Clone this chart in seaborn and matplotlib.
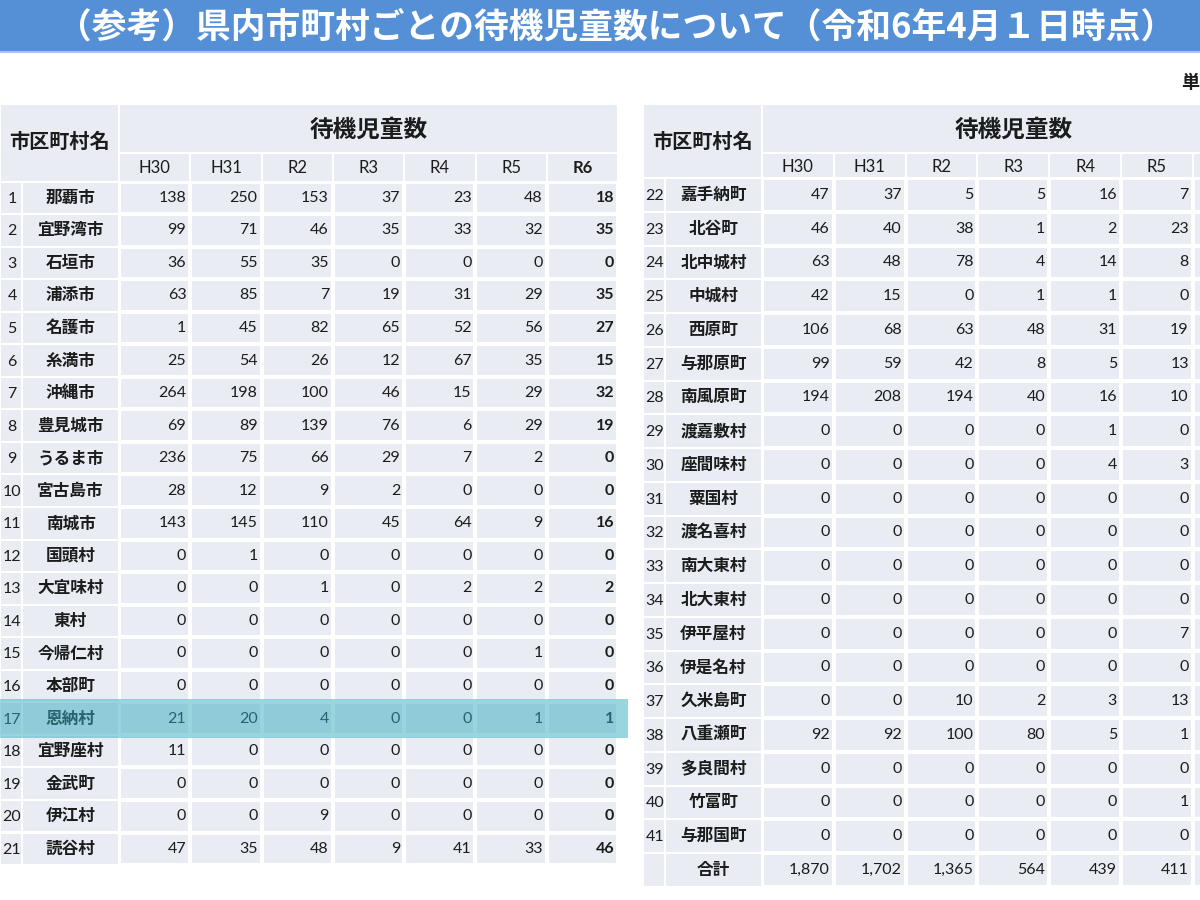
#%% Librerie
import numpy as np
import pandas as pd
import matplotlib
matplotlib.use("Agg")
import matplotlib.pyplot as plt
from matplotlib.colors import ListedColormap
from matplotlib.patches import Rectangle
import seaborn as sns

#%% Dati
title = "（参考）県内市町村ごとの待機児童数について（令和6年4月１日時点）"
unit_label = "単"  # nell'originale si vede solo il primo carattere, il resto è tagliato
name_header = "市区町村名"
group_header = "待機児童数"
total_label = "合計"
years = ["H30", "H31", "R2", "R3", "R4", "R5", "R6"]

names_left = ["那覇市", "宜野湾市", "石垣市", "浦添市", "名護市", "糸満市", "沖縄市",
              "豊見城市", "うるま市", "宮古島市", "南城市", "国頭村", "大宜味村", "東村",
              "今帰仁村", "本部町", "恩納村", "宜野座村", "金武町", "伊江村", "読谷村"]
values_left = [[138, 250, 153, 37, 23, 48, 18],
               [99, 71, 46, 35, 33, 32, 35],
               [36, 55, 35, 0, 0, 0, 0],
               [63, 85, 7, 19, 31, 29, 35],
               [1, 45, 82, 65, 52, 56, 27],
               [25, 54, 26, 12, 67, 35, 15],
               [264, 198, 100, 46, 15, 29, 32],
               [69, 89, 139, 76, 6, 29, 19],
               [236, 75, 66, 29, 7, 2, 0],
               [28, 12, 9, 2, 0, 0, 0],
               [143, 145, 110, 45, 64, 9, 16],
               [0, 1, 0, 0, 0, 0, 0],
               [0, 0, 1, 0, 2, 2, 2],
               [0, 0, 0, 0, 0, 0, 0],
               [0, 0, 0, 0, 0, 1, 0],
               [0, 0, 0, 0, 0, 0, 0],
               [21, 20, 4, 0, 0, 1, 1],
               [11, 0, 0, 0, 0, 0, 0],
               [0, 0, 0, 0, 0, 0, 0],
               [0, 0, 9, 0, 0, 0, 0],
               [47, 35, 48, 9, 41, 33, 46]]

names_right = ["嘉手納町", "北谷町", "北中城村", "中城村", "西原町", "与那原町", "南風原町",
               "渡嘉敷村", "座間味村", "粟国村", "渡名喜村", "南大東村", "北大東村", "伊平屋村",
               "伊是名村", "久米島町", "八重瀬町", "多良間村", "竹富町", "与那国町"]
# colonna R6 della tabella destra fuori dall'immagine
values_right = [[47, 37, 5, 5, 16, 7],
                [46, 40, 38, 1, 2, 23],
                [63, 48, 78, 4, 14, 8],
                [42, 15, 0, 1, 1, 0],
                [106, 68, 63, 48, 31, 19],
                [99, 59, 42, 8, 5, 13],
                [194, 208, 194, 40, 16, 10],
                [0, 0, 0, 0, 1, 0],
                [0, 0, 0, 0, 4, 3],
                [0, 0, 0, 0, 0, 0],
                [0, 0, 0, 0, 0, 0],
                [0, 0, 0, 0, 0, 0],
                [0, 0, 0, 0, 0, 0],
                [0, 0, 0, 0, 0, 7],
                [0, 0, 0, 0, 0, 0],
                [0, 0, 10, 2, 3, 13],
                [92, 92, 100, 80, 5, 1],
                [0, 0, 0, 0, 0, 0],
                [0, 0, 0, 0, 0, 1],
                [0, 0, 0, 0, 0, 0]]
totals = [1870, 1702, 1365, 564, 439, 411]
highlight_name = "恩納村"

#%% Stile
sns.set_theme(style="white")
plt.rcParams['font.family'] = ['Noto Sans CJK JP', 'DejaVu Sans']
num_font = ['Lato', 'Noto Sans CJK JP']

W, H = 1200, 900
cell_bg = "#e9edf3"
band_col = "#5590d6"
txt_col = "#1c1c1c"
grid_lw = 1.5

fig = plt.figure(figsize=(12, 9), dpi=100)
base = fig.add_axes([0, 0, 1, 1], zorder=0)
base.set_xlim(0, W)
base.set_ylim(H, 0)
base.axis("off")


def px_axes(x0, y0, x1, y1, z=1):
    return fig.add_axes([x0 / W, 1 - y1 / H, (x1 - x0) / W, (y1 - y0) / H], zorder=z)


def cell(x, y, w, h):
    base.add_patch(Rectangle((x, y), w, h, facecolor=cell_bg, edgecolor="white", lw=grid_lw))


#%% Titolo
base.add_patch(Rectangle((0, 0), W, 52, facecolor=band_col, edgecolor="none"))
base.plot([0, W], [52, 52], color="#a9c6ee", lw=1.5)
base.text(616, 27, title, color="white", fontsize=25, fontweight="bold",
          ha="center", va="center")
base.text(1181, 82, unit_label, color=txt_col, fontsize=13, fontweight="bold",
          ha="left", va="center")


#%% Tabelle
def draw_table(x0, col_w, top, row_h, names, start_no, vals, bold_last, total=None):
    no_w, name_w = 22, 97
    xv = x0 + no_w + name_w
    hdr_mid, hdr_bot = 153, top
    n_cols = len(years)

    # intestazione
    cell(x0, 104, no_w + name_w, hdr_bot - 104)
    base.text(x0 + (no_w + name_w) / 2, 141, name_header, fontsize=14.5, fontweight="bold",
              color=txt_col, ha="center", va="center")
    cell(xv, 104, col_w * n_cols, hdr_mid - 104)
    base.text(xv + col_w * 3.5, 130, group_header, fontsize=17,
              fontweight="bold", color=txt_col, ha="center", va="center")
    for j, yr in enumerate(years):
        cx = xv + (j + 0.5) * col_w
        cell(xv + j * col_w, hdr_mid, col_w, hdr_bot - hdr_mid)
        if cx + 15 > W:
            continue  # etichetta fuori dal bordo dell'immagine
        base.text(cx, (hdr_mid + hdr_bot) / 2 + 1, yr, fontsize=12,
                  family=num_font, color=txt_col, ha="center", va="center",
                  fontweight="bold" if (bold_last and j == n_cols - 1) else "normal")

    labels = [str(start_no + i) for i in range(len(names))]
    row_names = list(names)
    df = pd.DataFrame(vals, columns=years[:len(vals[0])]).reindex(columns=years)
    if total is not None:
        labels.append("")
        row_names.append(total_label)
        df.loc[len(df)] = total + [np.nan] * (n_cols - len(total))
    n_rows = len(df)

    # numero e nome
    for i in range(n_rows):
        y = top + i * row_h
        cell(x0, y, no_w, row_h)
        cell(x0 + no_w, y, name_w, row_h)
        base.text(x0 + no_w / 2 + 1, y + row_h / 2 + 1, labels[i], fontsize=11.5, family=num_font,
                  color=txt_col, ha="center", va="center")
        base.text(x0 + no_w + name_w / 2, y + row_h / 2, row_names[i], fontsize=12,
                  fontweight="bold", color=txt_col, ha="center", va="center")

    # valori con heatmap monocromatica
    ax = px_axes(xv, top, xv + col_w * n_cols, top + row_h * n_rows)
    sns.heatmap(df.fillna(-1), cmap=ListedColormap([cell_bg]), cbar=False,
                linewidths=grid_lw, linecolor="white", xticklabels=False, yticklabels=False, ax=ax)
    ax.set_xlabel("")
    ax.set_ylabel("")
    pad = 4 / col_w
    for i in range(n_rows):
        for j, yr in enumerate(years):
            v = df.iloc[i, j]
            if pd.isna(v):
                continue
            ax.text(j + 1 - pad, i + 0.5, f"{int(v):,}", fontsize=11.5, family=num_font,
                    color=txt_col, ha="right", va="center",
                    fontweight="bold" if (bold_last and j == n_cols - 1) else "normal")
    return top + row_h * row_names.index(highlight_name) if highlight_name in row_names else None


row_h_left = 32.55
hl_y = draw_table(0, 71.3, 181.5, row_h_left, names_left, 1, values_left, True)
draw_table(643, 71.8, 178.0, 33.75, names_right, 22, values_right, False, totals)

#%% Evidenziazione
over = fig.add_axes([0, 0, 1, 1], zorder=5)
over.set_xlim(0, W)
over.set_ylim(H, 0)
over.axis("off")
over.patch.set_alpha(0)
if hl_y is not None:
    over.add_patch(Rectangle((0, hl_y - 3), 628, row_h_left + 6, facecolor="#33acbe",
                             edgecolor="none", alpha=0.5))

fig.savefig("out.png", dpi=100)
